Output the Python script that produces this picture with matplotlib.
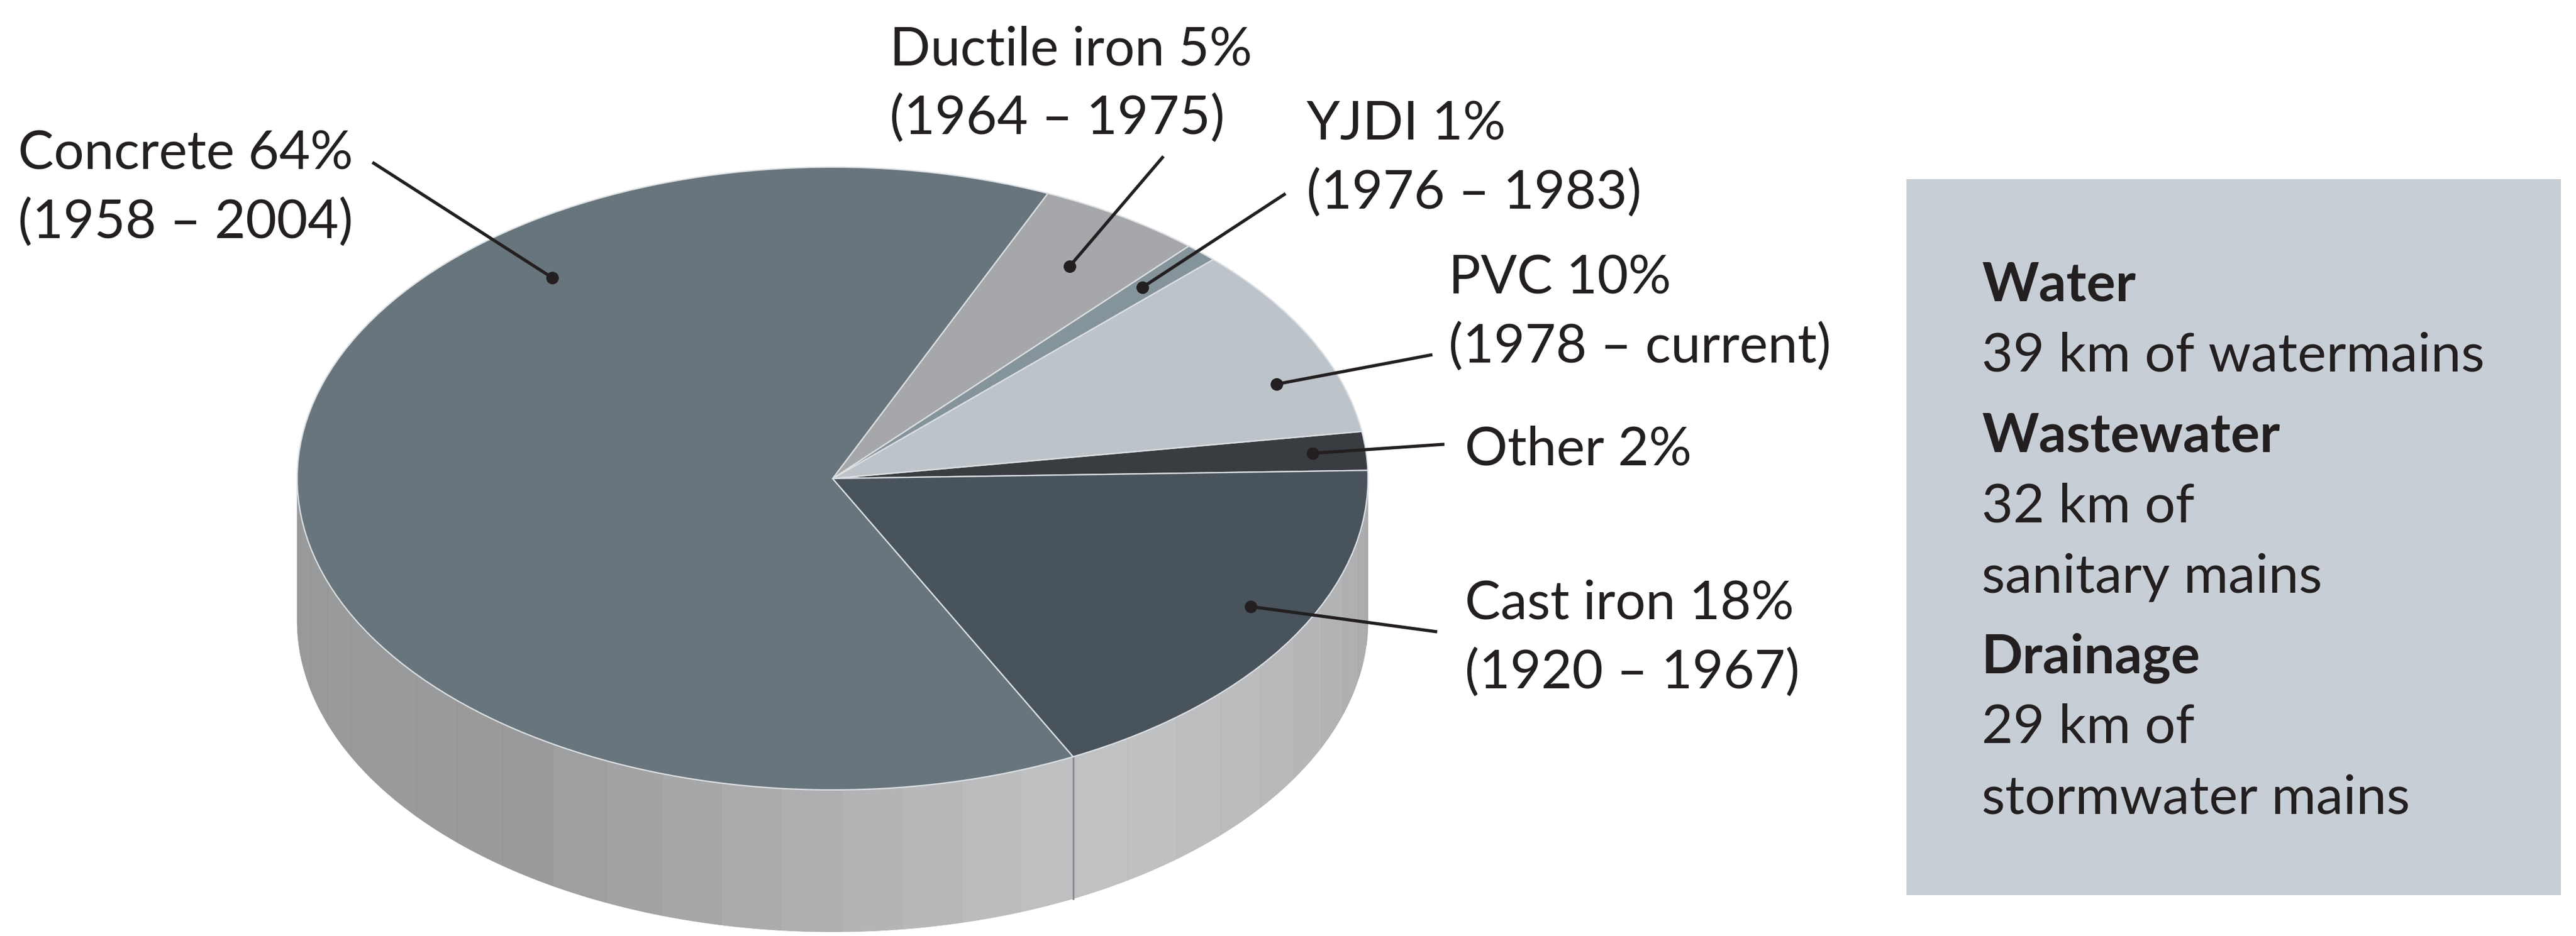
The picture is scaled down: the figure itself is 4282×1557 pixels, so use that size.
import numpy as np
import matplotlib
matplotlib.use("Agg")
import matplotlib.pyplot as plt
from matplotlib.patches import Polygon, Rectangle

# ---------------- data ----------------
materials = ["Other", "PVC", "YJDI", "Ductile iron", "Concrete", "Cast iron"]
shares = [2, 10, 1, 5, 64, 18]
periods = ["", "(1978 – current)", "(1976 – 1983)", "(1964 – 1975)", "(1958 – 2004)", "(1920 – 1967)"]
slice_colors = ["#393c41", "#bcc3c9", "#85939b", "#a5a7aa", "#68757d", "#48535c"]

box_heads = ["Water", "Wastewater", "Drainage"]
box_lines = [["39 km of watermains"], ["32 km of", "sanitary mains"], ["29 km of", "stormwater mains"]]

# ---------------- layout ----------------
W, H = 4282, 1557
DPI = 100
FONT = ["Lato", "DejaVu Sans"]
TXT = "#231f20"

fig = plt.figure(figsize=(W / DPI, H / DPI), dpi=DPI)
fig.patch.set_facecolor("white")

# pie geometry (pixels)
cx, cy, a, b = 1384, 796, 890, 518
depth = 236 / b
pax = fig.add_axes([(cx - a) / W, 1 - (cy + b) / H, 2 * a / W, 2 * b / H])
pax.set_zorder(1)
wedges, _ = pax.pie(shares, colors=slice_colors, startangle=1.5, counterclock=True,
                    radius=1.0,
                    wedgeprops=dict(edgecolor="#dde0e3", linewidth=1.6, zorder=3))
pax.set_aspect("auto")
pax.set_xlim(-1, 1)
pax.set_ylim(-1, 1)
pax.axis("off")

# pixel overlay axes (top-left origin), drawn above the pie
ax = fig.add_axes([0, 0, 1, 1])
ax.set_zorder(2)
ax.patch.set_visible(False)
ax.set_xlim(0, W)
ax.set_ylim(H, 0)
ax.axis("off")

# side of the disc (visible lower half), faceted shading
bounds = np.cumsum([0] + shares) / sum(shares) * 360 + 1.5
edges = list(np.arange(180, 360.01, 6.5))
for bd in bounds:
    if 180 < bd < 360:
        edges.append(bd)
edges = sorted(set(list(edges) + [360]))
shade_ang = [180, 235, 240, 247, 253, 259, 265, 270, 276, 283, 290, 297, 310, 320, 330, 340, 350, 360]
shade_val = [0x99, 0x99, 0x9d, 0xa1, 0xa5, 0xa9, 0xad, 0xb0, 0xb5, 0xb9, 0xbc, 0xc0, 0xbf, 0xbb, 0xb7, 0xb2, 0xae, 0xa8]
for t1, t2 in zip(edges[:-1], edges[1:]):
    tt = np.radians(np.linspace(t1, t2, 20))
    xs = np.cos(tt)
    ys = np.sin(tt)
    pts = np.column_stack([np.r_[xs, xs[::-1]], np.r_[ys, ys[::-1] - depth]])
    v = np.interp((t1 + t2) / 2, shade_ang, shade_val) / 255
    col = (v, v + 0.003, v + 0.012)
    pax.add_patch(Polygon(pts, closed=True, facecolor=col, edgecolor=(v - 0.03, v - 0.03, v - 0.02),
                          linewidth=0.5, zorder=1, clip_on=False))
# darker seam where Concrete meets Cast iron on the side
seam = np.radians(bounds[5])
pax.plot([np.cos(seam)] * 2, [np.sin(seam), np.sin(seam) - depth], color="#8c8d91",
         linewidth=2.2, zorder=2, clip_on=False)

# ---------------- labels ----------------
FS = 64
lab = {
    "Concrete": dict(x=587, y=281, ha="right", line=((619, 270), (918, 462))),
    "Ductile iron": dict(x=1479, y=108, ha="left", line=((1934, 260), (1778, 443))),
    "YJDI": dict(x=2172, y=232, ha="left", line=((2137, 322), (1899, 478))),
    "PVC": dict(x=2408, y=488, ha="left", line=((2381, 590), (2122, 639))),
    "Other": dict(x=2435, y=773, ha="left", line=((2401, 739), (2182, 754))),
    "Cast iron": dict(x=2435, y=1030, ha="left", line=((2389, 1051), (2079, 1009))),
}
LSP = 115
for name, share, per in zip(materials, shares, periods):
    L = lab[name]
    ax.text(L["x"], L["y"], f"{name} {share}%", ha=L["ha"], va="baseline",
            fontsize=FS, family=FONT, color=TXT)
    if per:
        ax.text(L["x"], L["y"] + LSP, per, ha=L["ha"], va="baseline",
                fontsize=FS, family=FONT, color=TXT)
    (x0, y0), (x1, y1) = L["line"]
    ax.plot([x0, x1], [y0, y1], color=TXT, linewidth=3.8, solid_capstyle="butt", zorder=5)
    ax.plot([x1], [y1], "o", color=TXT, markersize=14, zorder=6)

# ---------------- info box ----------------
ax.add_patch(Rectangle((3169, 298), 1088, 1191, facecolor="#c7ced5", edgecolor="none", zorder=1))
BFS = 65
y = 500
for head, lines in zip(box_heads, box_lines):
    ax.text(3294, y, head, ha="left", va="baseline", fontsize=BFS, family=FONT,
            fontweight="bold", color=TXT, zorder=3)
    for ln in lines:
        y += 117
        ax.text(3294, y, ln, ha="left", va="baseline", fontsize=BFS, family=FONT,
                color=TXT, zorder=3)
    y += 134

fig.savefig("out.png", dpi=DPI, facecolor="white")
